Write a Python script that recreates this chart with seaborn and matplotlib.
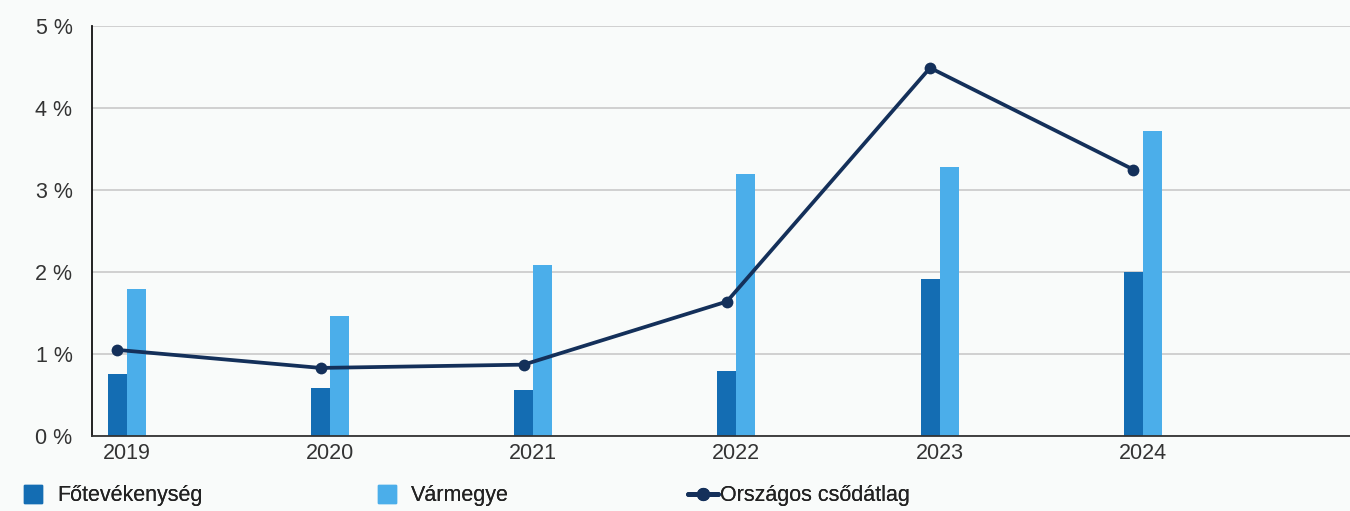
import matplotlib
matplotlib.use("Agg")
import matplotlib.pyplot as plt
from matplotlib.lines import Line2D
import seaborn as sns
import pandas as pd
import numpy as np

years = ["2019", "2020", "2021", "2022", "2023", "2024"]
fotevekenyseg = [0.75, 0.58, 0.56, 0.79, 1.92, 2.00]
varmegye = [1.79, 1.46, 2.08, 3.19, 3.28, 3.72]
orszagos = [1.05, 0.83, 0.87, 1.64, 4.49, 3.25]

dark = "#146db3"
light = "#4baeea"
navy = "#14305a"
bg = "#f9fbfa"

sns.set_theme(style="white")
plt.rcParams["font.family"] = ["Liberation Sans", "DejaVu Sans"]

df = pd.DataFrame({
    "Év": years * 2,
    "Érték": fotevekenyseg + varmegye,
    "Sorozat": ["Főtevékenység"] * len(years) + ["Vármegye"] * len(years),
})

fig = plt.figure(figsize=(13.5, 5.11), dpi=100, facecolor=bg)
ax = fig.add_axes([0.0681, 0.1468, 0.9319, 0.8023])
ax.set_facecolor(bg)

group_w = 0.187
sns.barplot(data=df, x="Év", y="Érték", hue="Sorozat", order=years,
            palette=[dark, light], width=group_w, dodge=True, gap=0,
            saturation=1, linewidth=0, legend=False, ax=ax)

# line sits on the centre of the dark bars
line_x = np.arange(len(years)) - group_w / 4
sns.lineplot(x=line_x, y=orszagos, color=navy, linewidth=2.7, marker="o",
             markersize=8.5, markeredgewidth=0, ax=ax)

ax.set_ylim(0, 5)
ax.set_xlim(-0.172, 6.02)
ax.set_yticks(range(6))
ax.set_yticklabels([f"{v} %" for v in range(6)])
ax.grid(axis="y", color="#c9c9c9", linewidth=1.2)
ax.set_axisbelow(True)
ax.set_xlabel("")
ax.set_ylabel("")
ax.tick_params(axis="y", labelsize=15.5, labelcolor="#333333", pad=14, length=0)
ax.tick_params(axis="x", labelsize=15.5, labelcolor="#333333", pad=5, length=0)

for s in ["top", "right"]:
    ax.spines[s].set_visible(False)
ax.spines["left"].set_color("#111111")
ax.spines["left"].set_linewidth(1.3)
ax.spines["bottom"].set_color("#333333")
ax.spines["bottom"].set_linewidth(1.3)

# three legend items, each placed on its own like in the original
items = [
    (Line2D([], [], marker="s", linestyle="none", color=dark, markersize=12.5),
     "Főtevékenység", 0.0135, 0.4),
    (Line2D([], [], marker="s", linestyle="none", color=light, markersize=12.5),
     "Vármegye", 0.2755, 0.4),
    (Line2D([], [], marker="o", color=navy, linewidth=3.5, markersize=8.5),
     "Országos csődátlag", 0.5095, 0.08),
]
for handle, label, x0, pad in items:
    leg = fig.legend([handle], [label], loc="center left",
                     bbox_to_anchor=(x0, 0.03), frameon=False, fontsize=15.5,
                     handlelength=1.4, handletextpad=pad, borderaxespad=0,
                     borderpad=0, labelcolor="#222222")
    fig.add_artist(leg)

fig.savefig("out.png", dpi=100, facecolor=bg)
